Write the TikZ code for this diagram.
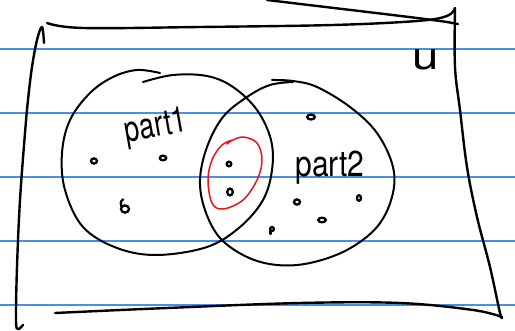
\documentclass[tikz,border=0pt]{standalone}
\usepackage{fontspec}
\setsansfont{TeX Gyre Heros}
\definecolor{ruleblue}{HTML}{4A90E2}
\definecolor{penred}{HTML}{E8141B}
\tikzset{
  ruled/.style={ruleblue, line width=1.6pt},
  pen/.style={black, line width=2.4pt, line cap=round, line join=round},
  setpen/.style={black, line width=2pt, line cap=round, line join=round},
  redpen/.style={penred, line width=1.5pt, line cap=round, line join=round},
  elem/.style={black, line width=2.3pt},
  hand/.style={font=\sffamily\fontsize{30}{30}\selectfont, inner sep=0pt}
}
\begin{document}
\begin{tikzpicture}[x=1pt, y=-1pt]
  \useasboundingbox (0,0) rectangle (515,331);
  \fill[white] (0,0) rectangle (515,331);

  % ruled notebook lines
  \foreach \yy in {49, 113, 177, 241, 305}
    \draw[ruled] (0,\yy) -- (515,\yy);

  % universe frame
  \draw[pen] plot[smooth, tension=0.6] coordinates
    {(47,23) (83,28) (200,27) (333,25) (417,21) (447,16) (455,8)};
  \draw[pen] (267,0) .. controls (350,10) and (420,18) .. (447,22) -- (458,24);
  \draw[pen] plot[smooth, tension=0.6] coordinates
    {(455,8) (455,67) (460,110) (467,167) (477,217) (490,267) (500,313) (502,317)};
  \draw[pen] plot[smooth, tension=0.6] coordinates
    {(55,313) (167,308) (300,303) (400,303) (473,310) (502,317)};
  \draw[pen] plot[smooth, tension=0.6] coordinates
    {(44,43) (42,27) (37,40) (32,67) (28,100) (25,133) (20,200) (17,267) (16,320) (18,329) (23,325)};

  % set part1
  \draw[setpen] plot[smooth, tension=0.6] coordinates
    {(143,82) (173,75) (207,76) (233,87) (257,110) (271,140) (272,170)
     (263,200) (240,227) (207,247) (157,255) (117,248) (83,227) (65,190)
     (62,153) (70,120) (90,93) (113,77) (137,70) (160,73)};

  % set part2
  \draw[setpen] plot[smooth, tension=0.6] coordinates
    {(272,80) (293,81) (317,87) (350,107) (377,133) (393,167) (392,197)
     (377,227) (347,250) (310,263) (277,265) (247,257) (220,238) (205,210)
     (200,180) (207,147) (223,117) (247,97) (270,85) (293,82)};

  % common elements ringed in red
  \draw[redpen] plot[smooth, tension=0.6] coordinates
    {(227,144) (231,141) (243,137) (257,143) (262,160) (257,180) (243,200)
     (223,209) (212,203) (208,180) (212,160) (222,145) (233,140)};

  % elements
  \draw[elem] (94,161) ellipse (3 and 2.6);
  \draw[elem] (163,158) ellipse (3.2 and 2.3);
  \draw[elem] (125,209) ellipse (4 and 3.6);
  \draw[elem] (121.5,207) .. controls (120,202) and (121,200) .. (123.5,199);
  \draw[elem] (229,164) ellipse (2.3 and 2.3);
  \draw[elem] (230,192) ellipse (2.8 and 3.4);
  \draw[elem] (311,117) ellipse (3.8 and 2.5);
  \draw[elem] (297,202) ellipse (3 and 2.6);
  \draw[elem] (359,198) ellipse (2 and 2.8);
  \draw[elem] (322,220) ellipse (3.8 and 2.3);
  \draw[elem] (272,229) ellipse (1.9 and 2);
  \draw[elem, line cap=round] (270.5,231) -- (270.5,234);

  % labels
  \node[hand, rotate=10] (lbl1) at (156,128) {\scalebox{0.9}[1.2]{part1}};
  \node[hand] (lbl2) at (330,168) {\scalebox{1.0}[1.2]{part2}};
  \node[hand, font=\sffamily\fontsize{38}{38}\selectfont] (lblu) at (426,60) {\scalebox{1.25}[1]{u}};
\end{tikzpicture}
\end{document}
